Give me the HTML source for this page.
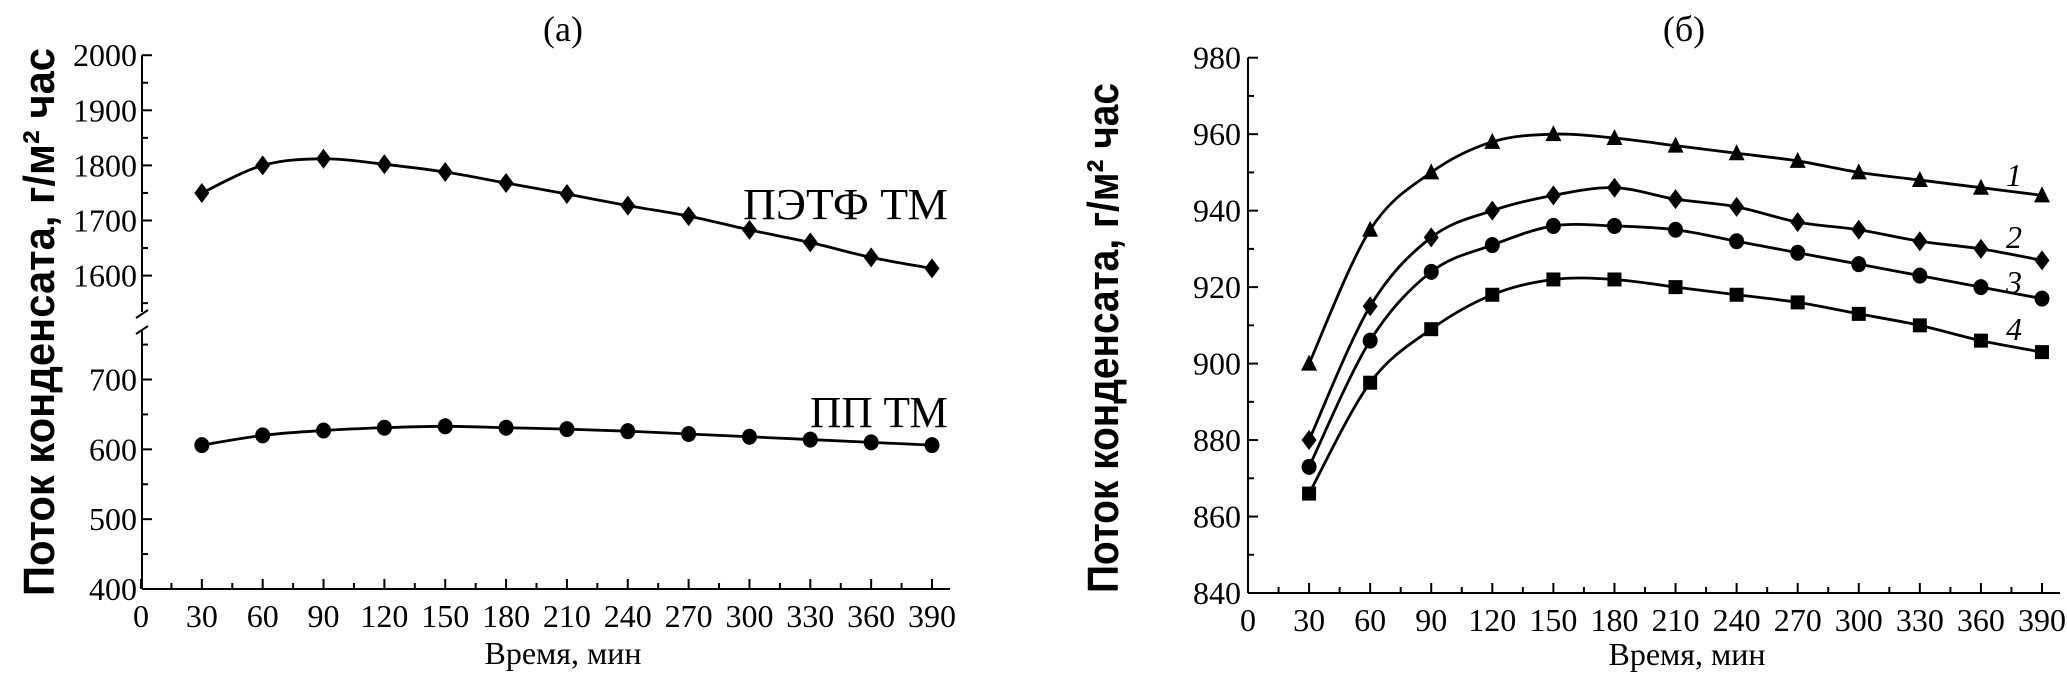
<!DOCTYPE html>
<html><head><meta charset="utf-8"><style>
html,body{margin:0;padding:0;background:#fff;}
svg{display:block;}
text{font-family:"Liberation Serif",serif;fill:#000;}
.yt{font-family:"Liberation Sans",sans-serif;font-weight:bold;}
</style></head><body>
<svg id="chart" width="2067" height="674" viewBox="0 0 2067 674" xmlns="http://www.w3.org/2000/svg"></svg>
<script>
const xCats = [30,60,90,120,150,180,210,240,270,300,330,360,390];
const xTicks = [0,30,60,90,120,150,180,210,240,270,300,330,360,390];
const petValues = [1750,1800,1812,1802,1788,1768,1748,1727,1708,1683,1660,1633,1613];
const ppValues = [606,620,627,631,633,631,629,626,622,618,614,610,606];
const leftUpperTicks = [1600,1700,1800,1900,2000];
const leftLowerTicks = [400,500,600,700];
const s1Values = [900,935,950,958,960,959,957,955,953,950,948,946,944];
const s2Values = [880,915,933,940,944,946,943,941,937,935,932,930,927];
const s3Values = [873,906,924,931,936,936,935,932,929,926,923,920,917];
const s4Values = [866,895,909,918,922,922,920,918,916,913,910,906,903];
const rightTicks = [840,860,880,900,920,940,960,980];

const svg = document.getElementById('chart');
const NS = 'http://www.w3.org/2000/svg';
function mk(tag, attrs, parent){const e=document.createElementNS(NS,tag);for(const k in attrs)e.setAttribute(k,attrs[k]);(parent||svg).appendChild(e);return e;}

const lx = v => 141 + v*(932-141)/390;
const lyU = v => 275.6 - (v-1600)*0.551;
const lyL = v => 589 - (v-400)*0.6983;
const ly = v => v>=1000 ? lyU(v) : lyL(v);
const rx = v => 1248 + v*(2042-1248)/390;
const ry = v => 593 - (v-840)*(593-57.7)/140;

function smooth(pts){
  let d='M'+pts[0][0]+','+pts[0][1];
  for(let i=0;i<pts.length-1;i++){
    const p0=pts[Math.max(0,i-1)],p1=pts[i],p2=pts[i+1],p3=pts[Math.min(pts.length-1,i+2)];
    const c1=[p1[0]+(p2[0]-p0[0])/6,p1[1]+(p2[1]-p0[1])/6];
    const c2=[p2[0]-(p3[0]-p1[0])/6,p2[1]-(p3[1]-p1[1])/6];
    d+=' C'+c1[0]+','+c1[1]+' '+c2[0]+','+c2[1]+' '+p2[0]+','+p2[1];
  }
  return d;
}
function marker(g,type,x,y){
  let e;
  if(type==='diamond'){e=mk('polygon',{points:`${x},${y-10} ${x+7.5},${y} ${x},${y+10} ${x-7.5},${y}`},g);}
  else if(type==='circle'){e=mk('ellipse',{cx:x,cy:y,rx:7.5,ry:8},g);}
  else if(type==='triangle'){e=mk('polygon',{points:`${x},${y-9} ${x+8},${y+7} ${x-8},${y+7}`},g);}
  else {e=mk('rect',{x:x-7,y:y-7,width:14,height:14},g);}
  
  
}
function series(name,vals,xs,ys,type){
  const g=mk('g',{fill:'#000'});
  
  
  const pts=vals.map((v,i)=>[xs(xCats[i]),ys(v)]);
  const p=mk('path',{d:smooth(pts),fill:'none',stroke:'#000','stroke-width':2.8},g);
  
  
  pts.forEach(q=>marker(g,type,q[0],q[1]));
}
function txt(s,x,y,size,attrs,name){
  const t=mk('text',Object.assign({x:x,y:y,'font-size':size},attrs||{}));
  t.textContent=s;
  
  
  return t;
}

// ===== LEFT CHART =====
const LB=589, AX={stroke:'#000','stroke-width':2};
let a=mk('line',Object.assign({x1:142,y1:LB,x2:950,y2:LB},AX));

a=mk('line',Object.assign({x1:142,y1:lyU(2000),x2:142,y2:312},AX));

a=mk('line',Object.assign({x1:142,y1:331,x2:142,y2:LB},AX));

a=mk('path',{d:'M136,318 L148,310 M136,334 L148,326',stroke:'#000','stroke-width':2,fill:'none'});

xTicks.forEach(v=>{
  mk('line',Object.assign({x1:lx(v),y1:LB,x2:lx(v),y2:LB-10},AX));
  if(v<390) mk('line',Object.assign({x1:lx(v+15),y1:LB,x2:lx(v+15),y2:LB-6},AX));
  txt(String(v),lx(v),627,32,{'text-anchor':'middle'},'left-x-tick-label');
});
leftUpperTicks.forEach(v=>{
  mk('line',Object.assign({x1:142,y1:lyU(v),x2:152,y2:lyU(v)},AX));
  if(v<2000) mk('line',Object.assign({x1:142,y1:lyU(v+50),x2:148,y2:lyU(v+50)},AX));
  txt(String(v),137,lyU(v)+11,32,{'text-anchor':'end'},'left-y-tick-label');
});
mk('line',Object.assign({x1:142,y1:lyU(1550),x2:148,y2:lyU(1550)},AX));
leftLowerTicks.forEach(v=>{
  mk('line',Object.assign({x1:142,y1:lyL(v),x2:152,y2:lyL(v)},AX));
  mk('line',Object.assign({x1:142,y1:lyL(v+50),x2:148,y2:lyL(v+50)},AX));
  txt(String(v),137,lyL(v)+11,32,{'text-anchor':'end'},'left-y-tick-label');
});
series('pet-tm-series',petValues,lx,ly,'diamond');
series('pp-tm-series',ppValues,lx,ly,'circle');
txt('ПЭТФ ТМ',948,219,44,{'text-anchor':'end',textLength:205,lengthAdjust:'spacingAndGlyphs'},'pet-tm-label');
txt('ПП ТМ',948,427,44,{'text-anchor':'end',textLength:138,lengthAdjust:'spacingAndGlyphs'},'pp-tm-label');
txt('(a)',563,41,36,{'text-anchor':'middle'},'left-panel-title');
txt('Время, мин',563,664,32,{'text-anchor':'middle'},'left-x-axis-title');
txt('Поток конденсата, г/м² час',0,0,44,{'text-anchor':'middle',class:'yt',textLength:548,lengthAdjust:'spacingAndGlyphs',transform:'translate(54,322) rotate(-90)'},'left-y-axis-title');

// ===== RIGHT CHART =====
const RB=593;
a=mk('line',Object.assign({x1:1248,y1:RB,x2:2060,y2:RB},AX));

a=mk('line',Object.assign({x1:1248,y1:ry(980),x2:1248,y2:RB},AX));

xTicks.forEach(v=>{
  mk('line',Object.assign({x1:rx(v),y1:RB,x2:rx(v),y2:RB-10},AX));
  if(v<390) mk('line',Object.assign({x1:rx(v+15),y1:RB,x2:rx(v+15),y2:RB-6},AX));
  txt(String(v),rx(v),631,32,{'text-anchor':'middle'},'right-x-tick-label');
});
rightTicks.forEach(v=>{
  mk('line',Object.assign({x1:1248,y1:ry(v),x2:1258,y2:ry(v)},AX));
  if(v<980) mk('line',Object.assign({x1:1248,y1:ry(v+10),x2:1254,y2:ry(v+10)},AX));
  txt(String(v),1241,ry(v)+11,32,{'text-anchor':'end'},'right-y-tick-label');
});
series('series-1',s1Values,rx,ry,'triangle');
series('series-2',s2Values,rx,ry,'diamond');
series('series-3',s3Values,rx,ry,'circle');
series('series-4',s4Values,rx,ry,'square');
txt('1',2014,186,32,{'font-style':'italic','text-anchor':'middle'},'series-1-label');
txt('2',2014,248,32,{'font-style':'italic','text-anchor':'middle'},'series-2-label');
txt('3',2014,293,32,{'font-style':'italic','text-anchor':'middle'},'series-3-label');
txt('4',2014,340,32,{'font-style':'italic','text-anchor':'middle'},'series-4-label');
txt('(б)',1684,41,36,{'text-anchor':'middle'},'right-panel-title');
txt('Время, мин',1687,665,32,{'text-anchor':'middle'},'right-x-axis-title');
txt('Поток конденсата, г/м² час',0,0,44,{'text-anchor':'middle',class:'yt',textLength:510,lengthAdjust:'spacingAndGlyphs',transform:'translate(1118,338) rotate(-90)'},'right-y-axis-title');
</script>
</body></html>
